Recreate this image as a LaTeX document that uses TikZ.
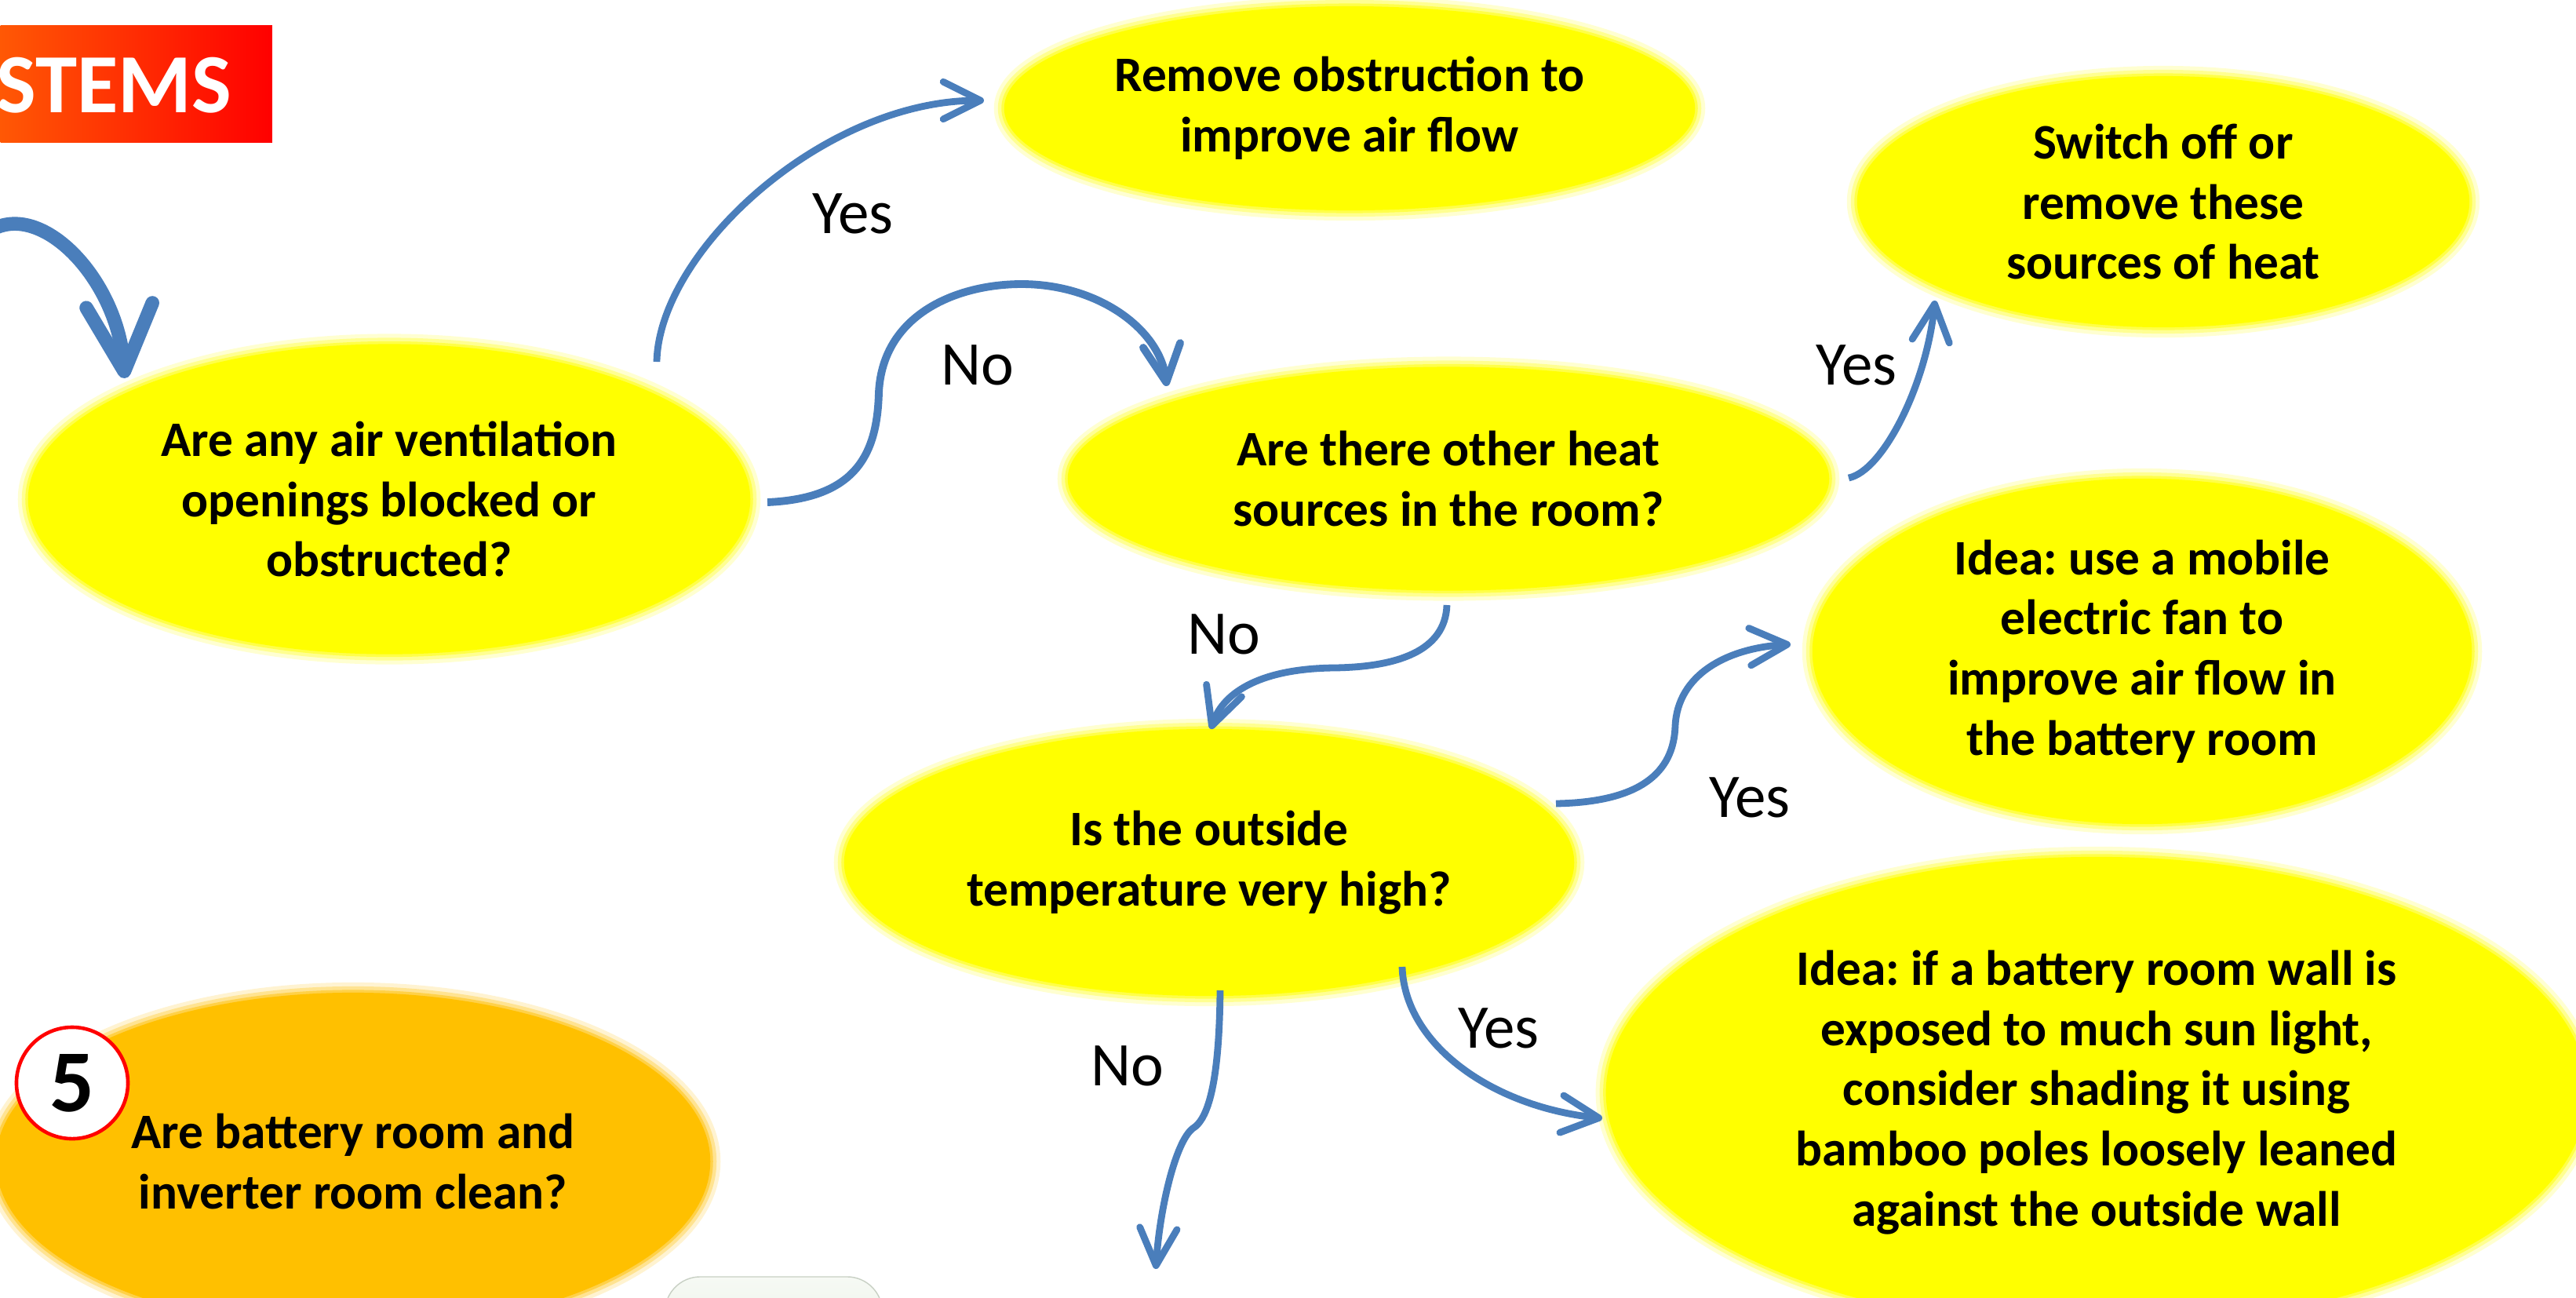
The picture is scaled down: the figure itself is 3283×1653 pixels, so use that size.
\documentclass[tikz,border=0pt]{standalone}
\usepackage{fontspec}
\setmainfont{Carlito}
\frenchspacing
\usetikzlibrary{arrows.meta,calc,shapes.geometric}
\definecolor{arrblue}{RGB}{74,126,187}
\definecolor{yel}{RGB}{255,255,0}
\definecolor{orng}{RGB}{255,192,0}
\definecolor{bannerL}{RGB}{255,88,5}
\definecolor{bannerR}{RGB}{255,0,0}
\definecolor{gtop}{RGB}{246,249,244}
\definecolor{gbot}{RGB}{228,238,222}
\definecolor{gedge}{RGB}{200,208,196}
\tikzset{
  glow/.style={preaction={draw=#1,line width=0.26cm,draw opacity=0.18},
               preaction={draw=#1,line width=0.16cm,draw opacity=0.3},
               preaction={draw=#1,line width=0.07cm,draw opacity=0.5}},
  bubble/.style={ellipse, fill=#1, glow=#1, inner sep=0pt, align=center,
                 font=\bfseries\fontsize{18pt}{21.8pt}\selectfont},
  bubble/.default=yel,
  lbl/.style={font=\fontsize{22.5pt}{27pt}\selectfont, inner sep=0pt},
  arr/.style={draw=arrblue, line width=2.5pt,
              -{Straight Barb[length=13.5pt,width=13.5pt,round]}},
  bigarr/.style={draw=arrblue, line width=5pt,
              -{Straight Barb[length=24pt,width=24pt,round]}},
}
\begin{document}
\begin{tikzpicture}[x=0.01cm,y=-0.01cm]
\useasboundingbox (0,0) rectangle (3283,1653);
\clip (0,0) rectangle (3283,1653);
\fill[white] (0,0) rectangle (3283,1653);

% banner
\node[anchor=north west, minimum width=3.46cm, minimum height=1.49cm, inner sep=0pt,
      left color=bannerL, right color=bannerR] (banner) at (0,32) {};
\node[anchor=base east, text=white, inner sep=0pt,
      font=\bfseries\fontsize{30.5pt}{32pt}\selectfont] (stems) at (296,143) {STEMS};

% bubbles
\node[bubble, minimum width=9.2cm, minimum height=3.95cm] (A) at (496,636)
  {Are any air ventilation\\openings blocked or\\obstructed?};
\node[bubble, minimum width=9.7cm, minimum height=2.85cm] (B) at (1846,610)
  {Are there other heat\\sources in the room?};
\node[bubble, minimum width=8.8cm, minimum height=2.6cm] (C) at (1720,138)
  {Remove obstruction to\\improve air flow};
\node[bubble, minimum width=7.8cm, minimum height=3.2cm] (D) at (2757,257)
  {Switch off or\\remove these\\sources of heat};
\node[bubble, minimum width=8.4cm, minimum height=4.4cm] (E) at (2730,830)
  {Idea: use a mobile\\electric fan to\\improve air flow in\\the battery room};
\node[bubble, minimum width=9.3cm, minimum height=3.4cm] (F) at (1541,1099)
  {Is the outside\\temperature very high?};
\node[bubble, minimum width=12.5cm, minimum height=6.0cm] (G) at (2672,1392)
  {Idea: if a battery room wall is\\exposed to much sun light,\\consider shading it using\\bamboo poles loosely leaned\\against the outside wall};
\node[bubble=orng, minimum width=9.1cm, minimum height=4.3cm] (H) at (450,1480)
  {Are battery room and\\inverter room clean?};
\node[circle, draw=red, line width=1.3pt, fill=white, minimum size=1.42cm, inner sep=0pt,
      font=\bfseries\fontsize{32pt}{32pt}\selectfont] (five) at (92,1380) {5};

% partial green box at bottom
\node[draw=gedge, rounded corners=0.45cm, top color=gtop, bottom color=gbot,
      minimum width=2.77cm, minimum height=1.6cm, inner sep=0pt] (gbox) at (986,1707) {};

% connectors
\coordinate (in0) at (-5,290);
\draw[bigarr] (in0) .. controls (60,262) and (150,360) .. ($(A.center)+(-337,-154)$);

\draw[arr] ($(A.center)+(341,-175)$) .. controls (840,320) and (1050,128) .. ($(C.center)+(-466,-10)$);

\draw[arr, line width=2.8pt] ($(A.center)+(482,4)$) .. controls (1090,635) and (1118,580) .. (1120,500)
   .. controls (1125,400) and (1220,362) .. (1302,362)
   .. controls (1400,362) and (1478,420) .. ($(B.center)+(-359,-118)$);

\draw[arr] ($(B.center)+(510,-1)$) .. controls (2400,600) and (2455,490) .. ($(D.center)+(-291,126)$);

\draw[arr] ($(B.center)+(-2,161)$) .. controls (1842,830) and (1780,850) .. (1700,851)
   .. controls (1610,852) and (1560,880) .. ($(F.center)+(2,-170)$);

\draw[arr] ($(F.center)+(442,-75)$) .. controls (2090,1022) and (2133,985) .. (2135,925)
   .. controls (2138,860) and (2200,826) .. ($(E.center)+(-448,-9)$);

\draw[arr] ($(F.center)+(246,133)$) .. controls (1790,1330) and (1900,1410) .. ($(G.center)+(-630,33)$);

\coordinate (out8) at (1473,1617);
\draw[arr, line join=round] ($(F.center)+(14,163)$) .. controls (1554,1370) and (1542,1425) .. (1520,1438)
   .. controls (1498,1455) and (1478,1540) .. (out8);

% labels
\node[lbl] (l1) at (1087,272) {Yes};
\node[lbl] (l2) at (1246,465) {No};
\node[lbl] (l3) at (2366,465) {Yes};
\node[lbl] (l4) at (1560,808) {No};
\node[lbl] (l5) at (2230,1016) {Yes};
\node[lbl] (l6) at (1910,1310) {Yes};
\node[lbl] (l7) at (1437,1358) {No};
\end{tikzpicture}
\end{document}
